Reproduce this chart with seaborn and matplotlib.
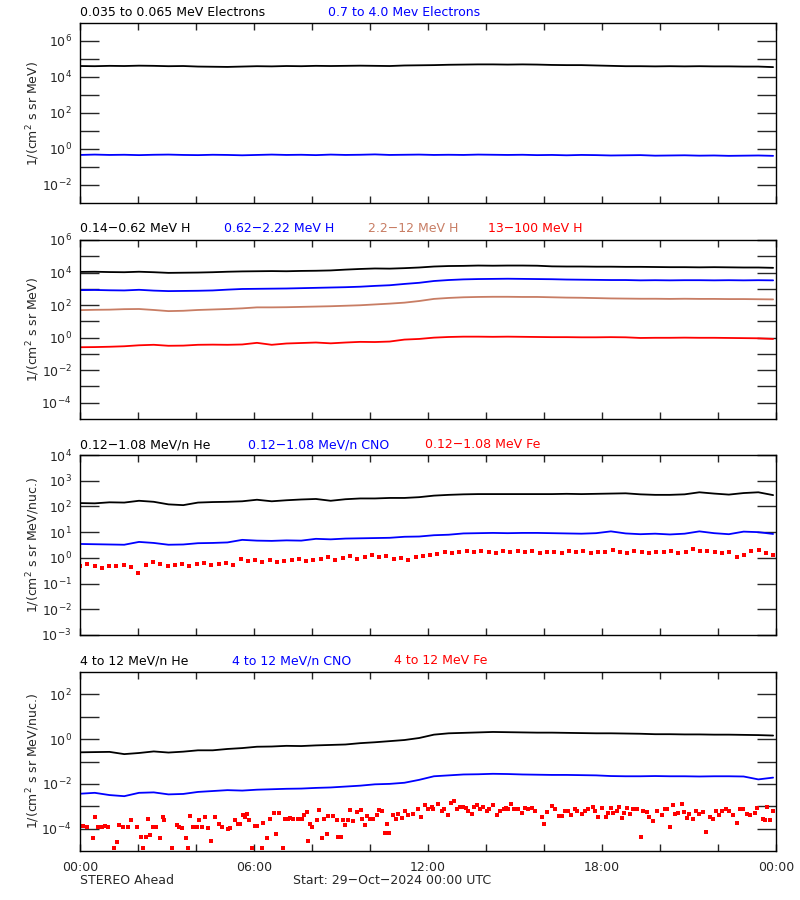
import numpy as np
import pandas as pd
import matplotlib
matplotlib.use("Agg")
import matplotlib.pyplot as plt
import matplotlib.ticker as mticker
import seaborn as sns

# time grid (hours after 29-Oct-2024 00:00 UTC)
hours = np.linspace(0, 23.9, 48)
hours_q = np.linspace(0, 23.9, 96)

# all fluxes stored as log10 values
# panel 1: electrons
e_lo_log = [4.61, 4.60, 4.62, 4.61, 4.63, 4.62, 4.60, 4.61, 4.58, 4.57, 4.56, 4.58,
            4.60, 4.59, 4.61, 4.60, 4.62, 4.61, 4.62, 4.63, 4.62, 4.61, 4.64, 4.65,
            4.66, 4.68, 4.69, 4.70, 4.70, 4.69, 4.70, 4.69, 4.67, 4.66, 4.66, 4.64,
            4.62, 4.60, 4.60, 4.59, 4.60, 4.59, 4.60, 4.59, 4.59, 4.58, 4.58, 4.55]
e_hi_log = [-0.33, -0.31, -0.33, -0.32, -0.34, -0.32, -0.31, -0.33, -0.34, -0.32, -0.33, -0.35,
            -0.33, -0.31, -0.33, -0.32, -0.34, -0.31, -0.33, -0.32, -0.30, -0.33, -0.32, -0.31,
            -0.33, -0.32, -0.33, -0.31, -0.32, -0.33, -0.32, -0.34, -0.33, -0.35, -0.33, -0.34,
            -0.36, -0.35, -0.34, -0.37, -0.36, -0.35, -0.37, -0.36, -0.38, -0.37, -0.36, -0.38]

# panel 2: protons
h1_log = [4.04, 4.05, 4.03, 4.02, 4.05, 4.02, 3.98, 3.99, 4.00, 4.02, 4.05, 4.07,
          4.08, 4.09, 4.08, 4.10, 4.11, 4.13, 4.18, 4.22, 4.25, 4.24, 4.27, 4.31,
          4.37, 4.40, 4.41, 4.43, 4.42, 4.43, 4.43, 4.42, 4.38, 4.37, 4.37, 4.36,
          4.36, 4.35, 4.35, 4.34, 4.33, 4.33, 4.32, 4.33, 4.32, 4.31, 4.31, 4.29]
h2_log = [2.92, 2.93, 2.91, 2.90, 2.94, 2.89, 2.86, 2.87, 2.88, 2.90, 2.95, 2.99,
          3.00, 3.01, 3.02, 3.04, 3.06, 3.08, 3.10, 3.13, 3.18, 3.22, 3.30, 3.37,
          3.48, 3.54, 3.58, 3.60, 3.61, 3.62, 3.61, 3.60, 3.59, 3.57, 3.56, 3.55,
          3.54, 3.54, 3.52, 3.53, 3.52, 3.53, 3.53, 3.52, 3.53, 3.52, 3.53, 3.52]
h3_log = [1.69, 1.71, 1.72, 1.75, 1.76, 1.70, 1.63, 1.65, 1.70, 1.73, 1.76, 1.80,
          1.86, 1.86, 1.87, 1.89, 1.91, 1.93, 1.96, 1.99, 2.04, 2.09, 2.15, 2.25,
          2.38, 2.44, 2.48, 2.50, 2.51, 2.51, 2.50, 2.50, 2.48, 2.46, 2.45, 2.43,
          2.41, 2.40, 2.39, 2.39, 2.38, 2.39, 2.38, 2.38, 2.37, 2.37, 2.36, 2.35]
h4_log = [-0.59, -0.58, -0.56, -0.53, -0.47, -0.44, -0.50, -0.49, -0.44, -0.43, -0.44, -0.42,
          -0.32, -0.44, -0.36, -0.33, -0.30, -0.35, -0.30, -0.26, -0.27, -0.24, -0.12, -0.08,
          0.00, 0.04, 0.06, 0.06, 0.05, 0.06, 0.05, 0.04, 0.03, 0.03, 0.02, 0.02,
          0.03, 0.02, -0.02, -0.01, -0.01, 0.00, -0.01, -0.01, -0.02, -0.03, -0.04, -0.08]

# panel 3: low energy heavy ions
he_lo_log = [2.13, 2.12, 2.16, 2.15, 2.22, 2.18, 2.08, 2.05, 2.15, 2.17, 2.18, 2.20,
             2.26, 2.20, 2.24, 2.27, 2.29, 2.22, 2.28, 2.31, 2.31, 2.33, 2.33, 2.36,
             2.42, 2.45, 2.47, 2.48, 2.48, 2.48, 2.48, 2.48, 2.48, 2.49, 2.48, 2.49,
             2.50, 2.51, 2.47, 2.45, 2.45, 2.47, 2.55, 2.50, 2.46, 2.52, 2.55, 2.44]
cno_lo_log = [0.54, 0.53, 0.52, 0.51, 0.62, 0.58, 0.51, 0.52, 0.57, 0.58, 0.60, 0.70,
              0.67, 0.66, 0.68, 0.67, 0.74, 0.72, 0.75, 0.76, 0.77, 0.78, 0.82, 0.83,
              0.88, 0.90, 0.95, 0.96, 0.97, 0.96, 0.97, 0.97, 0.96, 0.95, 0.94, 0.96,
              1.03, 0.95, 0.92, 0.94, 0.91, 0.94, 1.03, 0.96, 0.92, 1.02, 1.00, 0.93]
fe_lo_log = [-0.30, -0.22, -0.32, -0.38, -0.33, -0.30, -0.28, -0.35,
             -0.60, -0.26, -0.18, -0.24, -0.32, -0.28, -0.22, -0.30,
             -0.25, -0.20, -0.28, -0.22, -0.20, -0.26, -0.05, -0.12,
             -0.10, -0.18, -0.08, -0.15, -0.12, -0.08, -0.05, -0.14,
             -0.10, -0.05, 0.02, -0.08, -0.02, 0.06, -0.04, 0.04,
             0.10, 0.02, 0.08, -0.06, 0.00, -0.10, 0.02, 0.06,
             0.12, 0.16, 0.22, 0.20, 0.24, 0.26, 0.22, 0.28,
             0.24, 0.20, 0.26, 0.22, 0.25, 0.22, 0.27, 0.20,
             0.24, 0.22, 0.20, 0.26, 0.21, 0.25, 0.18, 0.24,
             0.22, 0.30, 0.24, 0.20, 0.26, 0.22, 0.18, 0.24,
             0.22, 0.26, 0.20, 0.23, 0.34, 0.28, 0.26, 0.22,
             0.18, 0.24, 0.02, 0.12, 0.26, 0.30, 0.18, 0.10]

# panel 4: high energy heavy ions
he_hi_log = [-0.59, -0.58, -0.57, -0.67, -0.62, -0.55, -0.60, -0.56, -0.50, -0.50, -0.44, -0.40,
             -0.34, -0.33, -0.30, -0.31, -0.28, -0.26, -0.24, -0.18, -0.14, -0.09, -0.04, 0.05,
             0.20, 0.26, 0.28, 0.30, 0.32, 0.31, 0.30, 0.29, 0.29, 0.28, 0.27, 0.26,
             0.26, 0.25, 0.24, 0.22, 0.22, 0.21, 0.21, 0.20, 0.20, 0.19, 0.18, 0.16]
cno_hi_log = [-2.44, -2.40, -2.50, -2.55, -2.40, -2.38, -2.47, -2.45, -2.36, -2.32, -2.28, -2.30,
              -2.26, -2.24, -2.22, -2.21, -2.18, -2.16, -2.12, -2.08, -2.02, -2.00, -1.95, -1.82,
              -1.66, -1.62, -1.58, -1.57, -1.55, -1.56, -1.58, -1.59, -1.60, -1.60, -1.61, -1.62,
              -1.65, -1.66, -1.66, -1.65, -1.66, -1.66, -1.67, -1.66, -1.66, -1.67, -1.80, -1.72]
fe_hi_hours = [0.09, 0.25, 0.44, 0.52, 0.63, 0.75, 0.86, 0.98, 1.17, 1.26,
               1.34, 1.49, 1.67, 1.76, 1.95, 2.09, 2.16, 2.26, 2.33, 2.41,
               2.51, 2.62, 2.76, 2.85, 2.91, 3.16, 3.33, 3.41, 3.51, 3.66,
               3.74, 3.79, 3.91, 4.02, 4.10, 4.20, 4.31, 4.43, 4.51, 4.66,
               4.79, 4.89, 5.11, 5.17, 5.34, 5.44, 5.52, 5.63, 5.69, 5.75,
               5.84, 5.92, 6.03, 6.11, 6.26, 6.32, 6.44, 6.55, 6.69, 6.76,
               6.87, 7.01, 7.07, 7.18, 7.24, 7.36, 7.51, 7.64, 7.72, 7.82,
               7.87, 7.93, 8.01, 8.16, 8.25, 8.33, 8.43, 8.51, 8.56, 8.71,
               8.85, 8.91, 8.99, 9.06, 9.14, 9.25, 9.31, 9.43, 9.54, 9.68,
               9.73, 9.83, 9.89, 10.00, 10.09, 10.23, 10.32, 10.40, 10.52, 10.57,
               10.66, 10.80, 10.89, 10.97, 11.09, 11.21, 11.32, 11.49, 11.67, 11.75,
               11.90, 12.01, 12.13, 12.18, 12.36, 12.47, 12.55, 12.70, 12.78, 12.90,
               12.99, 13.10, 13.20, 13.31, 13.39, 13.51, 13.59, 13.70, 13.79, 13.91,
               14.05, 14.11, 14.25, 14.37, 14.48, 14.62, 14.69, 14.77, 14.86, 14.97,
               15.11, 15.23, 15.34, 15.46, 15.57, 15.69, 15.92, 16.00, 16.09, 16.26,
               16.38, 16.53, 16.61, 16.72, 16.84, 16.92, 17.07, 17.13, 17.30, 17.41,
               17.53, 17.68, 17.76, 17.87, 17.99, 18.14, 18.22, 18.30, 18.39, 18.51,
               18.60, 18.68, 18.76, 18.85, 18.97, 19.08, 19.20, 19.33, 19.43, 19.56,
               19.63, 19.77, 19.91, 20.06, 20.17, 20.23, 20.34, 20.44, 20.52, 20.63,
               20.75, 20.83, 20.92, 21.00, 21.13, 21.24, 21.36, 21.49, 21.59, 21.72,
               21.82, 21.93, 22.05, 22.13, 22.28, 22.39, 22.53, 22.67, 22.76, 22.87,
               22.99, 23.10, 23.28, 23.36, 23.54, 23.62, 23.70, 23.79, 23.91]
fe_hi_log = [-3.90, -3.93, -4.42, -3.48, -3.93, -3.93, -3.90, -3.93, -4.85, -4.59,
             -3.85, -3.93, -3.93, -3.63, -3.93, -4.37, -4.85, -4.37, -3.59, -4.30,
             -3.93, -3.93, -4.42, -3.48, -3.63, -4.85, -3.85, -3.93, -3.97, -4.42,
             -4.85, -3.44, -3.93, -3.93, -3.63, -3.93, -3.48, -3.97, -4.55, -3.48,
             -3.78, -3.93, -4.00, -3.97, -3.60, -3.78, -3.78, -3.41, -3.48, -3.33,
             -3.63, -4.85, -3.90, -3.90, -4.85, -3.75, -4.40, -3.56, -3.29, -4.22,
             -3.29, -4.85, -3.56, -3.56, -3.53, -3.56, -3.56, -3.56, -3.41, -3.26,
             -4.55, -3.78, -3.93, -3.63, -3.16, -4.40, -3.56, -4.22, -3.44, -3.44,
             -3.63, -4.37, -4.37, -3.63, -3.85, -3.63, -3.16, -3.66, -3.26, -3.16,
             -3.56, -3.85, -3.44, -3.56, -3.56, -3.41, -3.16, -3.21, -4.19, -3.78,
             -4.19, -3.41, -3.56, -3.33, -3.53, -3.22, -3.41, -3.33, -3.14, -3.48,
             -2.96, -3.14, -3.04, -3.11, -2.92, -3.19, -3.11, -3.41, -2.84, -2.77,
             -3.14, -3.04, -3.04, -3.07, -3.19, -3.33, -3.04, -2.96, -3.14, -3.04,
             -3.22, -3.14, -2.96, -3.41, -3.22, -3.14, -3.07, -3.11, -2.92, -3.11,
             -3.14, -3.29, -3.07, -3.11, -3.07, -3.19, -3.48, -3.78, -3.26, -2.99,
             -3.11, -3.44, -3.44, -3.22, -3.19, -3.41, -3.14, -3.22, -3.36, -3.19,
             -3.14, -3.04, -3.22, -3.48, -3.07, -3.48, -3.29, -3.07, -3.29, -3.22,
             -3.04, -3.53, -3.29, -3.07, -3.33, -3.14, -3.14, -4.37, -3.19, -3.26,
             -3.48, -3.67, -3.19, -3.41, -3.14, -3.14, -3.93, -2.96, -3.33, -3.29,
             -2.89, -3.26, -3.51, -3.36, -3.59, -3.22, -3.33, -3.26, -4.15, -3.48,
             -3.59, -3.19, -3.41, -3.19, -3.14, -3.19, -3.41, -3.75, -3.11, -3.11,
             -3.33, -3.41, -3.29, -3.07, -3.56, -3.63, -3.04, -3.60, -3.22]

BLACK, BLUE, SIENNA, RED = "black", "#0000ff", "#c87d64", "#ff0000"
FS = 9

sns.set_style("white")
plt.rcParams["font.family"] = ["DejaVu Sans"]
plt.rcParams["mathtext.default"] = "regular"

fig = plt.figure(figsize=(8, 9), dpi=100)
W, H = 800.0, 900.0


def add_panel(top, bottom):
    ax = fig.add_axes([80 / W, 1 - bottom / H, 696 / W, (bottom - top) / H])
    ax.set_yscale("log")
    return ax


def style_panel(ax, ylo, yhi, label_exps):
    ax.set_xlim(0, 24)
    ax.set_ylim(10.0 ** ylo, 10.0 ** yhi)
    exps = list(range(ylo + 1, yhi))
    ax.yaxis.set_major_locator(mticker.FixedLocator([10.0 ** e for e in label_exps]))
    ax.yaxis.set_minor_locator(mticker.FixedLocator([10.0 ** e for e in exps if e not in label_exps]))
    ax.yaxis.set_major_formatter(mticker.LogFormatterMathtext())
    ax.yaxis.set_minor_formatter(mticker.NullFormatter())
    ax.xaxis.set_major_locator(mticker.FixedLocator([0, 6, 12, 18, 24]))
    ax.xaxis.set_minor_locator(mticker.FixedLocator([2, 4, 8, 10, 14, 16, 20, 22]))
    ax.tick_params(axis="y", which="both", direction="in", left=True, right=True,
                   length=14, width=1, labelsize=FS, pad=6)
    ax.tick_params(axis="x", which="both", direction="in", top=True, bottom=True,
                   length=5, width=1, labelbottom=False, labelsize=FS, pad=7)
    for s in ax.spines.values():
        s.set_linewidth(1)
        s.set_color("black")
    ax.set_xlabel("")
    ax.set_ylabel("")


def draw_line(ax, t, logv, color):
    df = pd.DataFrame({"t": t, "flux": np.power(10.0, logv)})
    sns.lineplot(data=df, x="t", y="flux", color=color, lw=1.3, estimator=None,
                 ax=ax, legend=False)


def draw_dots(ax, t, logv, color, size):
    df = pd.DataFrame({"t": t, "flux": np.power(10.0, logv)})
    sns.scatterplot(data=df, x="t", y="flux", color=color, marker="s", s=size,
                    linewidth=0, ax=ax, legend=False)


def titles(y, items):
    for x, txt, c in items:
        fig.text(x / W, 1 - y / H, txt, color=c, fontsize=FS, ha="left", va="center")


def ylabel(ytop, ybot, txt):
    fig.text(33 / W, 1 - (ytop + ybot) / 2 / H, txt, rotation=90, fontsize=FS,
             ha="center", va="center")


ax1 = add_panel(23, 203)
draw_line(ax1, hours, e_lo_log, BLACK)
draw_line(ax1, hours, e_hi_log, BLUE)
style_panel(ax1, -3, 7, [-2, 0, 2, 4, 6])

ax2 = add_panel(240, 419)
draw_line(ax2, hours, h1_log, BLACK)
draw_line(ax2, hours, h2_log, BLUE)
draw_line(ax2, hours, h3_log, SIENNA)
draw_line(ax2, hours, h4_log, RED)
style_panel(ax2, -5, 6, [-4, -2, 0, 2, 4, 6])

ax3 = add_panel(455, 635)
draw_line(ax3, hours, he_lo_log, BLACK)
draw_line(ax3, hours, cno_lo_log, BLUE)
draw_dots(ax3, hours_q, fe_lo_log, RED, 7)
style_panel(ax3, -3, 4, [-3, -2, -1, 0, 1, 2, 3, 4])

ax4 = add_panel(672, 851)
draw_line(ax4, hours, he_hi_log, BLACK)
draw_line(ax4, hours, cno_hi_log, BLUE)
draw_dots(ax4, fe_hi_hours, fe_hi_log, RED, 5)
style_panel(ax4, -5, 3, [-4, -2, 0, 2])
ax4.xaxis.set_major_formatter(mticker.FixedFormatter(["00:00", "06:00", "12:00", "18:00", "00:00"]))
ax4.tick_params(axis="x", labelbottom=True)

titles(13, [(80, "0.035 to 0.065 MeV Electrons", BLACK),
            (328, "0.7 to 4.0 Mev Electrons", BLUE)])
titles(229, [(80, "0.14\u22120.62 MeV H", BLACK),
             (224, "0.62\u22122.22 MeV H", BLUE),
             (368, "2.2\u221212 MeV H", SIENNA),
             (488, "13\u2212100 MeV H", RED)])
titles(445, [(80, "0.12\u22121.08 MeV/n He", BLACK),
             (248, "0.12\u22121.08 MeV/n CNO", BLUE),
             (425, "0.12\u22121.08 MeV Fe", RED)])
titles(661, [(80, "4 to 12 MeV/n He", BLACK),
             (232, "4 to 12 MeV/n CNO", BLUE),
             (394, "4 to 12 MeV Fe", RED)])

ylabel(23, 203, "1/(cm$^2$ s sr MeV)")
ylabel(240, 419, "1/(cm$^2$ s sr MeV)")
ylabel(455, 635, "1/(cm$^2$ s sr MeV/nuc.)")
ylabel(672, 851, "1/(cm$^2$ s sr MeV/nuc.)")

fig.text(80 / W, 1 - 881 / H, "STEREO Ahead", fontsize=FS, ha="left", va="center")
fig.text(293 / W, 1 - 881 / H, "Start: 29\u2212Oct\u22122024 00:00 UTC", fontsize=FS,
         ha="left", va="center")

fig.savefig("out.png", dpi=100, facecolor="white")
